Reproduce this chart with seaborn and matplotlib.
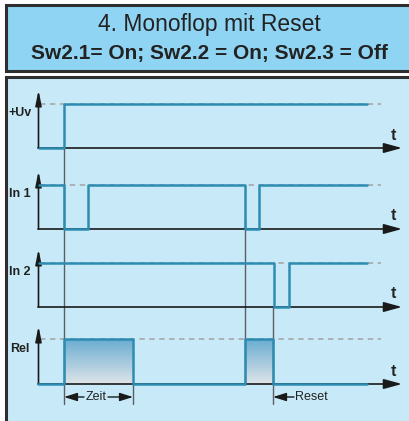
import numpy as np
import pandas as pd
import matplotlib
matplotlib.use('Agg')
import matplotlib.pyplot as plt
import seaborn as sns
from matplotlib.patches import Rectangle
from matplotlib.colors import LinearSegmentedColormap

# timing data (x = time position, level 0/1)
channels = ['+Uv', 'In 1', 'In 2', 'Rel']
uv_t = [39, 64, 367]
uv_s = [0, 1, 1]
in1_t = [39, 64, 88, 245, 259, 367]
in1_s = [1, 0, 1, 0, 1, 1]
in2_t = [39, 274, 289, 367]
in2_s = [1, 0, 1, 1]
rel_t = [38, 64, 133, 245, 273, 367]
rel_s = [0, 1, 0, 1, 0, 0]

title1 = '4. Monoflop mit Reset'
title2 = 'Sw2.1= On; Sw2.2 = On; Sw2.3 = Off'

# row geometry (baseline, high level) in figure pixels
rows = {'+Uv': (148, 104), 'In 1': (229, 185), 'In 2': (307, 263), 'Rel': (384, 339)}
signals = {'+Uv': (uv_t, uv_s), 'In 1': (in1_t, in1_s),
           'In 2': (in2_t, in2_s), 'Rel': (rel_t, rel_s)}

sns.set_theme(style='white')
plt.rcParams['font.family'] = ['Liberation Sans', 'DejaVu Sans']

W, H = 409, 421
fig = plt.figure(figsize=(W / 100, H / 100), dpi=100)
ax = fig.add_axes([0, 0, 1, 1])
ax.set_xlim(0, W)
ax.set_ylim(H, 0)
ax.axis('off')

sig_col = '#2d8cb1'
dash_col = '#a9aeb2'
guide_col = '#5a5f63'
txt_col = '#222222'

# header box and panel
ax.add_patch(Rectangle((6, 5), 410, 66, facecolor='#8fd4f3', edgecolor='#2e2e2e', lw=2.2))
ax.add_patch(Rectangle((6, 77), 410, 360, facecolor='#c8eaf8', edgecolor='#2e2e2e', lw=2.2))
ax.text(209, 24, title1, ha='center', va='center', fontsize=16.5, color=txt_col)
ax.text(209, 53, title2, ha='center', va='center', fontsize=15, fontweight='bold', color=txt_col)

# gradient fill for relay pulses
cmap = LinearSegmentedColormap.from_list('rel', ['#dde4e8', '#6badd2'])
grad = np.linspace(1, 0, 64).reshape(-1, 1)
base, high = rows['Rel']
for i in range(len(rel_t) - 1):
    if rel_s[i] == 1:
        ax.imshow(grad, cmap=cmap, aspect='auto', origin='upper',
                  extent=(rel_t[i], rel_t[i + 1], base, high), zorder=2)

for name in channels:
    base, high = rows[name]
    # dashed high reference
    ax.plot([40, 381], [high, high], color=dash_col, lw=1.3, ls=(0, (3, 2.5)), zorder=2)
    # axes with arrows
    ax.annotate('', xy=(402, base), xytext=(38, base), zorder=4,
                arrowprops=dict(arrowstyle='-|>,head_length=1.1,head_width=0.3',
                                color='#1a1a1a', lw=1.2, mutation_scale=10,
                                shrinkA=0, shrinkB=0))
    ax.annotate('', xy=(38.5, base - 58), xytext=(38.5, base), zorder=4,
                arrowprops=dict(arrowstyle='-|>,head_length=0.9,head_width=0.18',
                                color='#1a1a1a', lw=1.2, mutation_scale=10,
                                shrinkA=0, shrinkB=0))
    ax.text(393, base - 13, 't', ha='center', va='center', fontsize=11.5,
            fontweight='bold', color=txt_col)
    ax.text(20, (base + high) / 2 - 13, name, ha='center', va='center', fontsize=9,
            fontweight='bold', color=txt_col)
    t, s = signals[name]
    df = pd.DataFrame({'t': t, 'y': [base - v * (base - high) for v in s]})
    sns.lineplot(data=df, x='t', y='y', ax=ax, color=sig_col, lw=1.8,
                 drawstyle='steps-post', estimator=None, sort=False, zorder=5)

ax.set_xlim(0, W)
ax.set_ylim(H, 0)
ax.axis('off')

# vertical guide lines
for x, y0, y1 in [(64, 148, 404), (244.5, 219, 384), (273, 307, 404), (133, 384, 404)]:
    ax.plot([x, x], [y0, y1], color=guide_col, lw=1, zorder=3)

ap = dict(arrowstyle='-|>,head_length=0.8,head_width=0.25', color='#1a1a1a',
          lw=1, mutation_scale=10, shrinkA=0, shrinkB=0)
ax.annotate('', xy=(64, 397), xytext=(84, 397), arrowprops=ap)
ax.annotate('', xy=(133, 397), xytext=(108, 397), arrowprops=ap)
ax.text(96, 397, 'Zeit', ha='center', va='center', fontsize=9, color=txt_col)
ax.annotate('', xy=(273, 397), xytext=(294, 397), arrowprops=ap)
ax.text(311, 397, 'Reset', ha='center', va='center', fontsize=9, color=txt_col)

fig.savefig('out.png', dpi=100)
